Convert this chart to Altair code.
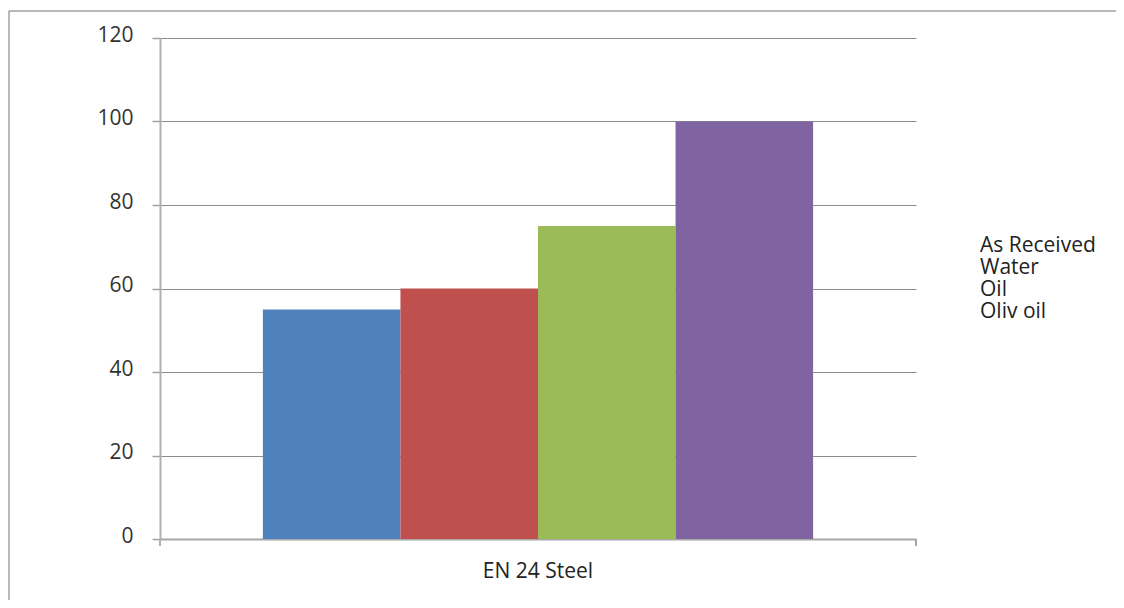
import altair as alt
import pandas as pd

categories = ["EN 24 Steel"]
series = ["As Received", "Water", "Oil", "Oliv oil"]
values = [55, 60, 75, 100]
colors = ["#4F81BD", "#C0504D", "#9BBB59", "#8064A2"]
y_ticks = [0, 20, 40, 60, 80, 100, 120]

df = pd.DataFrame({
    "category": categories * len(series),
    "series": series,
    "value": values,
})

W, H = 756, 501
FONT = "Open Sans"
FS = 21

bars = alt.Chart(df).mark_bar().encode(
    x=alt.X(
        "category:N",
        scale=alt.Scale(paddingInner=0, paddingOuter=0.187),
        axis=alt.Axis(
            title=None, labelAngle=0, ticks=False, grid=False,
            domainColor="#a6a6a6", domainWidth=2,
            labelFont=FONT, labelFontSize=FS, labelColor="#222222",
            labelPadding=21,
        ),
    ),
    xOffset=alt.XOffset("series:N", sort=series,
                        scale=alt.Scale(paddingInner=0, paddingOuter=0)),
    y=alt.Y(
        "value:Q",
        scale=alt.Scale(domain=[0, 120], nice=False),
        axis=alt.Axis(
            values=y_ticks, title=None,
            domainColor="#b0b0b0", domainWidth=2,
            tickColor="#a0a0a0", tickSize=8, tickWidth=1.5,
            gridColor="#8c8c8c", gridWidth=1.2,
            labelFont=FONT, labelFontSize=FS, labelColor="#333333",
            labelPadding=19, labelOffset=-3,
        ),
    ),
    color=alt.Color(
        "series:N", sort=series,
        scale=alt.Scale(domain=series, range=colors),
        legend=alt.Legend(
            title=None, orient="none", legendX=799, legendY=197,
            symbolSize=0, symbolStrokeWidth=0, symbolOpacity=0,
            labelOffset=0, labelFont=FONT, labelFontSize=FS,
            labelColor="#222222", rowPadding=0, labelLimit=300,
        ),
    ),
)

one = pd.DataFrame({"k": [0]})
left_tick = alt.Chart(one).mark_rule(color="#b0b0b0", strokeWidth=2).encode(
    x=alt.value(0), y=alt.value(H), y2=alt.value(H + 7))
right_tick = alt.Chart(one).mark_rule(color="#a6a6a6", strokeWidth=2).encode(
    x=alt.value(W), y=alt.value(H), y2=alt.value(H + 7))
border_top = alt.Chart(one).mark_rule(color="#a0a0a0", strokeWidth=1.5).encode(
    x=alt.value(-151), x2=alt.value(W + 400), y=alt.value(-27))
border_left = alt.Chart(one).mark_rule(color="#a0a0a0", strokeWidth=1.5).encode(
    x=alt.value(-151), y=alt.value(-27), y2=alt.value(H + 300))

chart = alt.layer(border_top, border_left, bars, left_tick, right_tick).properties(
    width=W, height=H,
    autosize=alt.AutoSizeParams(type="none"),
    padding={"left": 152, "top": 30, "right": 200, "bottom": 61},
    background="white",
).configure_view(strokeWidth=0)

chart.save("out.html", embed_options={"renderer": "svg", "actions": False})
